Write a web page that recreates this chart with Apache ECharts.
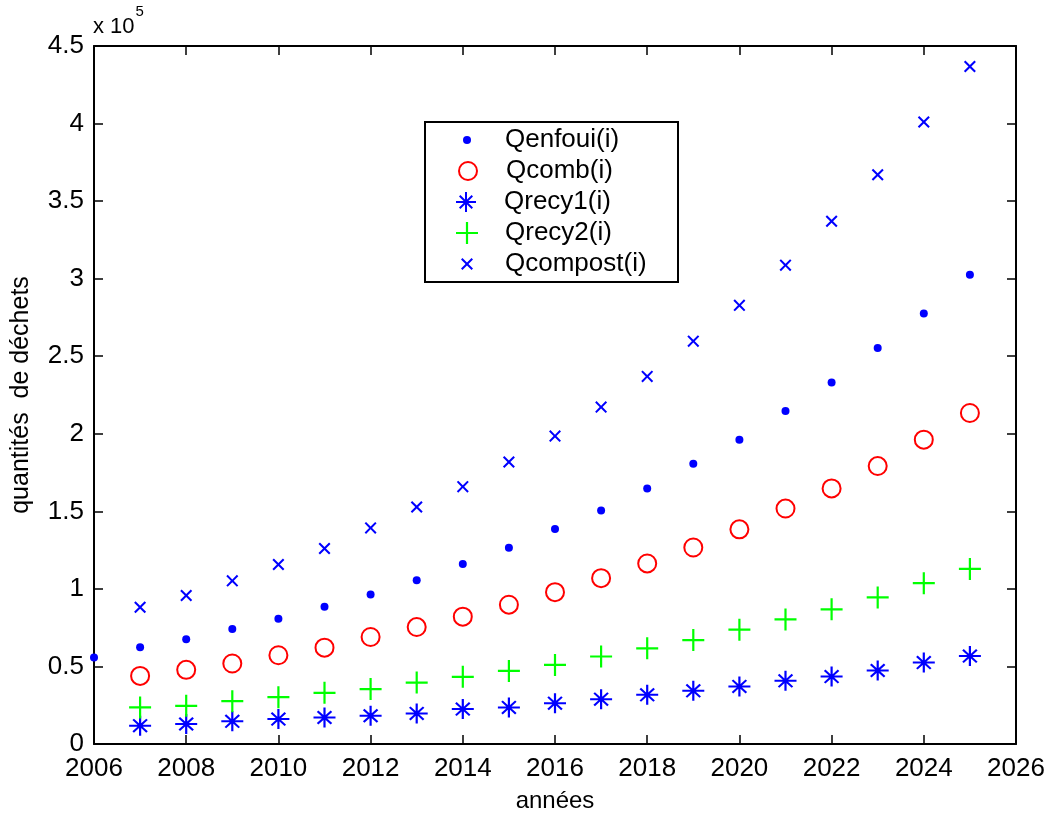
<!DOCTYPE html>
<html>
<head>
<meta charset="utf-8">
<script src="https://cdn.jsdelivr.net/npm/echarts@6/dist/echarts.min.js"></script>
<style>
  html, body { margin: 0; padding: 0; background: #fff; }
  #chart { width: 1050px; height: 818px; }
</style>
</head>
<body>
<div id="chart"></div>
<script>
// années
var yearsEnfoui = [2006, 2007, 2008, 2009, 2010, 2011, 2012, 2013, 2014, 2015,
                   2016, 2017, 2018, 2019, 2020, 2021, 2022, 2023, 2024, 2025];
var years = yearsEnfoui.slice(1);

// quantités de déchets
var qEnfoui = [55700, 62300, 67500, 74100, 80800, 88500, 96400, 105600, 116100, 126600,
               138600, 150600, 164800, 180700, 196200, 214700, 233100, 255300, 277600, 302500];
var qComb = [43900, 47800, 51900, 57200, 62100, 69000, 75400, 82100, 89800, 97900,
             106900, 116400, 126700, 138400, 151800, 164800, 179200, 196200, 213400];
var qRecy1 = [11800, 12900, 14600, 16100, 17100, 18200, 19700, 22500, 23600, 26300,
              28900, 31700, 34300, 37100, 40700, 43500, 47400, 52500, 56700];
var qRecy2 = [23600, 24600, 27600, 30200, 33000, 35400, 39600, 43300, 47100, 51000,
              56400, 61700, 67000, 73700, 80300, 86800, 94500, 103700, 112900];
var qCompost = [88200, 95700, 105200, 115700, 126000, 139300, 152800, 165900, 181800, 198500,
                217200, 237000, 259700, 282800, 308700, 337000, 367000, 401000, 436800];

var seriesNames = ['Qenfoui(i)', 'Qcomb(i)', 'Qrecy1(i)', 'Qrecy2(i)', 'Qcompost(i)'];

function pairs(xs, ys) {
    return xs.map(function (x, i) { return [x, ys[i]]; });
}

// marqueurs façon matlab
var plusPath = 'path://M9,0H11V9H20V11H11V20H9V11H0V9H9Z';
var crossPath = 'path://M0,2.4L2.4,0L10,7.6L17.6,0L20,2.4L12.4,10L20,17.6L17.6,20L10,12.4L2.4,20L0,17.6L7.6,10Z';
var starPath = 'path://M9,0H11V9H20V11H11V20H9V11H0V9H9Z' +
               'M3,4.4L4.4,3L10,8.6L15.6,3L17,4.4L11.4,10L17,15.6L15.6,17L10,11.4L4.4,17L3,15.6L8.6,10Z';

var FONT = 'Liberation Sans, Arial, Helvetica, sans-serif';
var BLUE = '#0000ff', RED = '#ff0000', GREEN = '#00ff00';

var markers = [
    { symbol: 'circle', size: 8, color: BLUE },
    { symbol: 'emptyCircle', size: 18, color: RED },
    { symbol: starPath, size: [22, 20], color: BLUE },
    { symbol: plusPath, size: 22, color: GREEN },
    { symbol: crossPath, size: 12, color: BLUE }
];
var seriesData = [
    pairs(yearsEnfoui, qEnfoui),
    pairs(years, qComb),
    pairs(years, qRecy1),
    pairs(years, qRecy2),
    pairs(years, qCompost)
];

var chart = echarts.init(document.getElementById('chart'));

// une légende par série pour garder la taille de chaque marqueur
var legendX = 467, legendText = 505, rowTop = 140, rowGap = 31;
var legends = seriesNames.map(function (name, i) {
    var m = markers[i];
    var w = Array.isArray(m.size) ? m.size[0] : m.size;
    var h = Array.isArray(m.size) ? m.size[1] : m.size;
    return {
        data: [name],
        left: legendX - w / 2,
        top: rowTop + i * rowGap - 14,
        padding: 0,
        itemWidth: w,
        itemHeight: h,
        selectedMode: false,
        textStyle: {
            fontFamily: FONT, fontSize: 26, color: '#000', lineHeight: 28,
            padding: [0, 0, 0, legendText - (legendX + w / 2) - 5]
        }
    };
});

var axisLine = { show: true, onZero: false, lineStyle: { color: '#000', width: 2 } };
var tickIn = { show: true, inside: true, length: 9, lineStyle: { color: '#000', width: 1.5 } };

var option = {
    backgroundColor: '#fff',
    animation: false,
    grid: { left: 94, right: 34, top: 46, bottom: 73, show: false },
    legend: legends,
    graphic: [
        {
            type: 'rect',
            shape: { x: 425, y: 122, width: 253, height: 160 },
            style: { fill: '#fff', stroke: '#000', lineWidth: 2 },
            z: 0
        },
        {
            type: 'text',
            left: 93, top: 4,
            style: {
                text: '{b|x 10}{s|5}',
                rich: {
                    b: { fontFamily: FONT, fontSize: 22, color: '#000', padding: [12, 0, 0, 0] },
                    s: { fontFamily: FONT, fontSize: 15, color: '#000', verticalAlign: 'top', padding: [0, 0, 0, 1] }
                }
            }
        }
    ],
    xAxis: [
        {
            type: 'value', min: 2006, max: 2026, interval: 2,
            name: 'années', nameLocation: 'middle', nameGap: 45,
            nameTextStyle: { fontFamily: FONT, fontSize: 24, color: '#000' },
            axisLine: axisLine, axisTick: tickIn,
            axisLabel: {
                fontFamily: FONT, fontSize: 26, color: '#000', margin: 12,
                formatter: function (v) { return String(v); }
            },
            splitLine: { show: false }
        },
        {
            type: 'value', min: 2006, max: 2026, interval: 2, position: 'top',
            axisLine: axisLine, axisTick: tickIn,
            axisLabel: { show: false }, splitLine: { show: false }
        }
    ],
    yAxis: [
        {
            type: 'value', min: 0, max: 450000, interval: 50000,
            name: 'quantités  de déchets', nameLocation: 'middle', nameGap: 60,
            nameTextStyle: { fontFamily: FONT, fontSize: 25, color: '#000' },
            axisLine: axisLine, axisTick: tickIn,
            axisLabel: {
                fontFamily: FONT, fontSize: 26, color: '#000', margin: 10,
                formatter: function (v) { return String(+(v / 1e5).toFixed(1)); }
            },
            splitLine: { show: false }
        },
        {
            type: 'value', min: 0, max: 450000, interval: 50000, position: 'right',
            axisLine: axisLine, axisTick: tickIn,
            axisLabel: { show: false }, splitLine: { show: false }
        }
    ],
    series: seriesNames.map(function (name, i) {
        var m = markers[i];
        var empty = m.symbol === 'emptyCircle';
        return {
            name: name,
            type: 'scatter',
            data: seriesData[i],
            symbol: m.symbol,
            symbolSize: m.size,
            itemStyle: empty
                ? { color: m.color, borderColor: m.color, borderWidth: 1.6, opacity: 1 }
                : { color: m.color, opacity: 1 },
            z: 5
        };
    })
};
chart.setOption(option);
</script>
</body>
</html>
